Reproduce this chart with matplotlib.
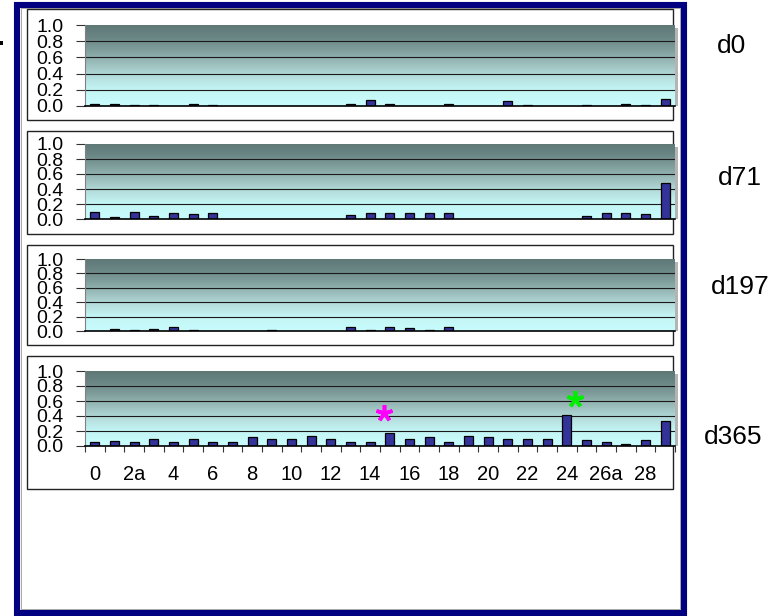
import matplotlib
matplotlib.use('Agg')
import matplotlib.pyplot as plt
from matplotlib.patches import Rectangle
from matplotlib.colors import LinearSegmentedColormap
import numpy as np

plt.rcParams['font.family'] = ['Liberation Sans', 'DejaVu Sans']

nan = np.nan

# categories along the x axis (only the even ones are labelled)
categories = ['0', '1', '2a', '3', '4', '5', '6', '7', '8', '9', '10', '11', '12', '13', '14',
              '15', '16', '17', '18', '19', '20', '21', '22', '23', '24', '25', '26a', '27', '28', '29']

panel_names = ['d0', 'd71', 'd197', 'd365']

d0 = [0.025, 0.025, 0.012, 0.012, nan, 0.025, 0.012, nan, nan, nan, nan, nan, nan, 0.028, 0.074,
      0.028, nan, nan, 0.028, nan, nan, 0.062, 0.012, nan, nan, 0.012, nan, 0.028, 0.012, 0.086]
d71 = [0.093, 0.027, 0.093, 0.044, 0.076, 0.062, 0.076, nan, nan, nan, nan, nan, nan, 0.058, 0.076,
       0.076, 0.076, 0.076, 0.076, nan, nan, nan, nan, nan, nan, 0.044, 0.076, 0.076, 0.062, 0.484]
d197 = [nan, 0.033, 0.019, 0.033, 0.051, 0.019, nan, nan, nan, 0.019, nan, nan, nan, 0.051, 0.019,
        0.051, 0.037, 0.019, 0.051, nan, nan, nan, nan, nan, nan, nan, nan, nan, nan, nan]
d365 = [0.058, 0.070, 0.058, 0.089, 0.058, 0.089, 0.058, 0.058, 0.120, 0.100, 0.089, 0.133, 0.089, 0.058, 0.058,
        0.173, 0.093, 0.124, 0.058, 0.138, 0.124, 0.093, 0.093, 0.093, 0.413, 0.076, 0.058, 0.027, 0.076, 0.333]

# significance stars on the last panel
star_x = [14.7, 24.4]
star_y = [0.44, 0.63]
star_colors = ['#ff00ff', '#00ee00']

W, H = 780, 616
fig = plt.figure(figsize=(W / 100, H / 100), dpi=100)


def fx(x):
    return x / W


def fy(y):
    return 1 - y / H


# blue outer frame
fig.add_artist(Rectangle((fx(17), fy(613)), fx(684) - fx(17), fy(4.5) - fy(613), transform=fig.transFigure,
                         fill=False, edgecolor='#000080', lw=4.4, zorder=0))
fig.add_artist(Rectangle((fx(21), fy(609)), fx(680) - fx(21), fy(8) - fy(609), transform=fig.transFigure,
                         fill=False, edgecolor='#9a9a9a', lw=0.6, zorder=0))
fig.add_artist(Rectangle((fx(0), fy(45)), fx(3), fy(41) - fy(45), transform=fig.transFigure,
                         color='black', lw=0))

# white boxes (px) and plot areas (px) for each panel
boxes = [(9, 120), (131, 234), (245, 345), (356, 489)]
areas = [(25, 106), (144, 219), (259, 331), (371, 446)]
label_pos = [(731, 46), (740, 178), (740, 287), (733, 437)]

grad_cmap = LinearSegmentedColormap.from_list('bg', [
    (0.0, '#c8fcfc'), (0.2, '#c4f5f5'), (0.35, '#b6e0df'), (0.5, '#a0c3c1'),
    (0.7, '#7e9d9b'), (0.85, '#6a8684'), (1.0, '#5e7876')])
grad = np.linspace(0, 1, 256).reshape(-1, 1)

x = np.arange(len(categories))

for i, vals in enumerate([d0, d71, d197, d365]):
    b0, b1 = boxes[i]
    fig.add_artist(Rectangle((fx(27), fy(b1)), fx(673) - fx(27), fy(b0) - fy(b1), transform=fig.transFigure,
                             facecolor='white', edgecolor='#222222', lw=1.0, zorder=0.5))
    a0, a1 = areas[i]
    # little shadow right of the plot area
    fig.add_artist(Rectangle((fx(675), fy(a1)), fx(3), fy(a0 + 3) - fy(a1), transform=fig.transFigure,
                             facecolor='#b4b4b4', lw=0, zorder=0.6))
    ax = fig.add_axes([fx(85), fy(a1), fx(675) - fx(85), fy(a0) - fy(a1)])
    ax.set_zorder(1)
    ax.patch.set_visible(False)
    ax.imshow(grad, extent=[-0.5, 29.5, 0, 1], aspect='auto', cmap=grad_cmap, origin='lower', zorder=0)
    for g in [0.2, 0.4, 0.6, 0.8]:
        ax.axhline(g, color='#1a1a1a', lw=0.8, zorder=1)
    ax.bar(x, vals, width=0.45, color='#333399', edgecolor='black', lw=0.9, zorder=2)
    ax.set_xlim(-0.5, 29.5)
    ax.set_ylim(0, 1)
    ax.set_yticks([0, 0.2, 0.4, 0.6, 0.8, 1.0], labels=['0.0', '0.2', '0.4', '0.6', '0.8', '1.0'])
    ax.tick_params(axis='y', direction='out', length=6.5, width=0.8, color='#333333', labelsize=14, pad=9)
    for s in ['top', 'right']:
        ax.spines[s].set_visible(False)
    ax.spines['left'].set_color('#808080')
    ax.spines['bottom'].set_color('black')
    ax.spines['bottom'].set_linewidth(1.2)
    if i == 3:
        ax.set_xticks(np.arange(-0.5, 30, 1), labels=[])
        ax.set_xticks(x[::2], labels=categories[::2], minor=True)
        ax.tick_params(axis='x', which='major', direction='out', length=4.5, width=0.8, color='#333333')
        ax.tick_params(axis='x', which='minor', length=0, labelsize=14.5, pad=14)
        for sx, sy, sc in zip(star_x, star_y, star_colors):
            ax.plot(sx, sy, marker=(5, 2, 0), markersize=12, mew=2.6, color=sc, zorder=3)
    else:
        ax.set_xticks([])
    lx, ly = label_pos[i]
    fig.text(fx(lx), fy(ly), panel_names[i], fontsize=19, ha='center', va='center')

plt.savefig('out.png', dpi=100)
